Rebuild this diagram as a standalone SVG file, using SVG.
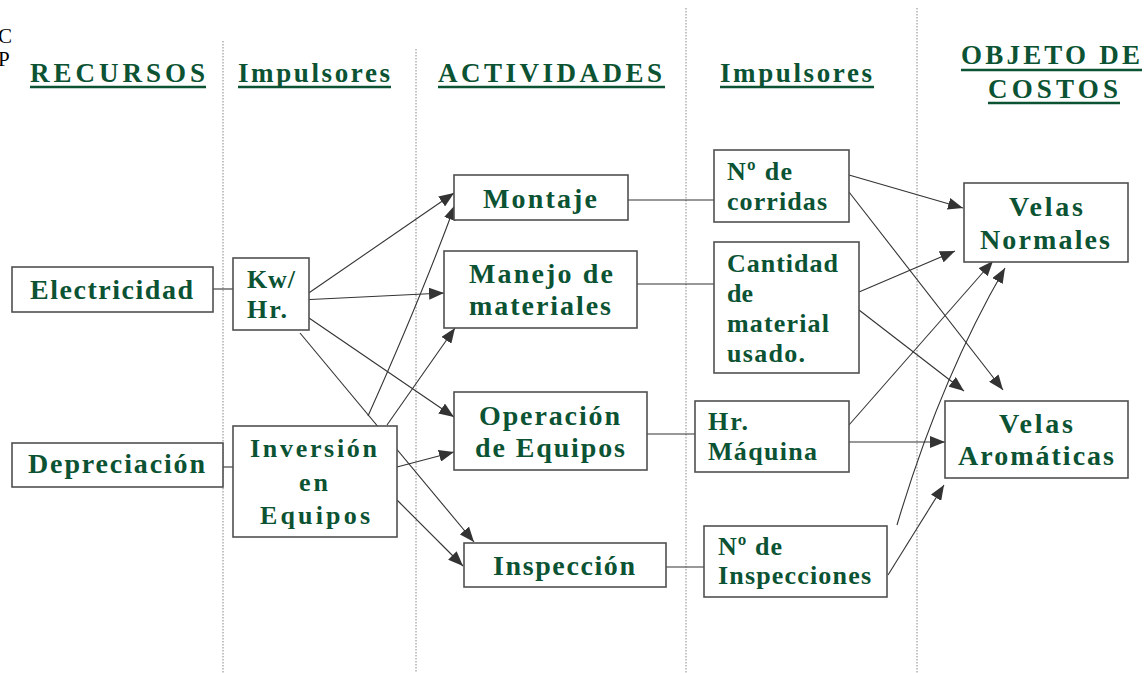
<svg xmlns="http://www.w3.org/2000/svg" width="1146" height="673" viewBox="0 0 1146 673">
<style>
.bx{fill:#fff;stroke:#505050;stroke-width:1.6}
.t{font-weight:bold;fill:#0b5333;font-size:28px}
.s{font-size:26px}
.h{font-weight:bold;fill:#0b5333;font-size:27px}
.ul{stroke:#0b5333;stroke-width:2.6}
.dv{stroke:#888;stroke-width:1;stroke-dasharray:1.5 1.5}
.c{stroke:#333;stroke-width:1.1;fill:none}
.a{stroke:#333;stroke-width:1.1;fill:none;marker-end:url(#ah)}
</style>
<defs>
<marker id="ah" markerUnits="userSpaceOnUse" markerWidth="16" markerHeight="12" refX="15" refY="6" orient="auto">
<path d="M0,0 L15,6 L0,12 Z" fill="#333"/>
</marker>
</defs>
<rect width="1146" height="673" fill="#fff"/>
<g id="dividers">
<line class="dv" x1="223" y1="41" x2="223" y2="673"/>
<line class="dv" x1="416" y1="49" x2="416" y2="673"/>
<line class="dv" x1="686" y1="8" x2="686" y2="673"/>
<line class="dv" x1="917" y1="8" x2="917" y2="673"/>
</g>
<g id="edge-text" font-family="Liberation Serif, serif">
<text x="-2" y="43" font-size="21" fill="#000">C</text>
<text x="-2" y="66" font-size="21" fill="#000">P</text>
</g>
<g id="headers" font-family="Liberation Serif, serif">
<text class="h" x="30" y="82" textLength="175" lengthAdjust="spacing">RECURSOS</text>
<line class="ul" x1="30" y1="87" x2="206" y2="87"/>
<text class="h" x="238" y="82" textLength="152" lengthAdjust="spacing">Impulsores</text>
<line class="ul" x1="238" y1="87" x2="391" y2="87"/>
<text class="h" x="438" y="82" textLength="224" lengthAdjust="spacing">ACTIVIDADES</text>
<line class="ul" x1="438" y1="87" x2="665" y2="87"/>
<text class="h" x="720" y="82" textLength="152" lengthAdjust="spacing">Impulsores</text>
<line class="ul" x1="720" y1="87" x2="874" y2="87"/>
<text class="h" x="961" y="64" textLength="179" lengthAdjust="spacing">OBJETO DE</text>
<line class="ul" x1="961" y1="70" x2="1142" y2="70"/>
<text class="h" x="988" y="98" textLength="130" lengthAdjust="spacing">COSTOS</text>
<line class="ul" x1="988" y1="103" x2="1120" y2="103"/>
</g>
<g id="connectors">
<line class="c" x1="213" y1="289" x2="233" y2="289"/>
<line class="c" x1="223" y1="467" x2="233" y2="467"/>
<line class="c" x1="628" y1="200" x2="714" y2="200"/>
<line class="c" x1="637" y1="284" x2="714" y2="284"/>
<line class="c" x1="647" y1="434" x2="695" y2="434"/>
<line class="c" x1="666" y1="567" x2="704" y2="567"/>
<line class="a" x1="300" y1="299" x2="454" y2="193"/>
<line class="a" x1="300" y1="300" x2="444" y2="293"/>
<line class="a" x1="309" y1="318" x2="454" y2="417"/>
<line class="a" x1="300" y1="333" x2="474" y2="542"/>
<path class="a" d="M368,416 Q420,300 455,205"/>
<line class="a" x1="387" y1="425" x2="455" y2="328"/>
<line class="a" x1="397" y1="467" x2="454" y2="452"/>
<line class="a" x1="397" y1="500" x2="463" y2="566"/>
<line class="a" x1="849" y1="175" x2="963" y2="208"/>
<line class="a" x1="849" y1="192" x2="1003" y2="390"/>
<line class="a" x1="859" y1="292" x2="955" y2="251"/>
<line class="a" x1="859" y1="310" x2="964" y2="391"/>
<line class="a" x1="849" y1="425" x2="993" y2="261"/>
<line class="a" x1="849" y1="442" x2="945" y2="442"/>
<path class="a" d="M897,525 Q940,380 1005,268"/>
<line class="a" x1="888" y1="575" x2="944" y2="485"/>
</g>
<g id="nodes" font-family="Liberation Serif, serif">
<g id="electricidad">
<rect class="bx" x="12" y="267" width="201" height="45"/>
<text class="t" x="30" y="299" textLength="163" lengthAdjust="spacing">Electricidad</text>
</g>
<g id="depreciacion">
<rect class="bx" x="12" y="443" width="211" height="44"/>
<text class="t" x="28" y="473" textLength="177" lengthAdjust="spacing">Depreciación</text>
</g>
<g id="kwhr">
<rect class="bx" x="233" y="258" width="76" height="72"/>
<text class="t s" x="247" y="288" textLength="48" lengthAdjust="spacing">Kw/</text>
<text class="t s" x="247" y="318" textLength="40" lengthAdjust="spacing">Hr.</text>
</g>
<g id="inversion">
<rect class="bx" x="233" y="426" width="164" height="111"/>
<text class="t s" x="250" y="457" textLength="127" lengthAdjust="spacing">Inversión</text>
<text class="t s" x="299" y="491" textLength="29" lengthAdjust="spacing">en</text>
<text class="t s" x="260" y="524" textLength="110" lengthAdjust="spacing">Equipos</text>
</g>
<g id="montaje">
<rect class="bx" x="454" y="175" width="174" height="45"/>
<text class="t" x="483" y="208" textLength="114" lengthAdjust="spacing">Montaje</text>
</g>
<g id="manejo">
<rect class="bx" x="444" y="251" width="193" height="77"/>
<text class="t" x="469" y="283" textLength="144" lengthAdjust="spacing">Manejo de</text>
<text class="t" x="469" y="315" textLength="142" lengthAdjust="spacing">materiales</text>
</g>
<g id="operacion">
<rect class="bx" x="454" y="392" width="193" height="78"/>
<text class="t" x="479" y="425" textLength="141" lengthAdjust="spacing">Operación</text>
<text class="t" x="475" y="457" textLength="150" lengthAdjust="spacing">de Equipos</text>
</g>
<g id="inspeccion">
<rect class="bx" x="464" y="543" width="202" height="44"/>
<text class="t" x="493" y="575" textLength="142" lengthAdjust="spacing">Inspección</text>
</g>
<g id="corridas">
<rect class="bx" x="714" y="150" width="135" height="72"/>
<text class="t s" x="727" y="180" textLength="65" lengthAdjust="spacing">Nº de</text>
<text class="t s" x="727" y="210" textLength="100" lengthAdjust="spacing">corridas</text>
</g>
<g id="cantidad">
<rect class="bx" x="714" y="242" width="145" height="131"/>
<text class="t s" x="727" y="272" textLength="111" lengthAdjust="spacing">Cantidad</text>
<text class="t s" x="727" y="302" textLength="26" lengthAdjust="spacing">de</text>
<text class="t s" x="727" y="332" textLength="102" lengthAdjust="spacing">material</text>
<text class="t s" x="727" y="362" textLength="78" lengthAdjust="spacing">usado.</text>
</g>
<g id="hrmaquina">
<rect class="bx" x="695" y="401" width="154" height="71"/>
<text class="t s" x="708" y="430" textLength="40" lengthAdjust="spacing">Hr.</text>
<text class="t s" x="708" y="460" textLength="109" lengthAdjust="spacing">Máquina</text>
</g>
<g id="ninspecciones">
<rect class="bx" x="704" y="526" width="183" height="71"/>
<text class="t s" x="718" y="555" textLength="64" lengthAdjust="spacing">Nº de</text>
<text class="t s" x="718" y="584" textLength="153" lengthAdjust="spacing">Inspecciones</text>
</g>
<g id="velas-normales">
<rect class="bx" x="964" y="183" width="164" height="79"/>
<text class="t" x="1009" y="216" textLength="74" lengthAdjust="spacing">Velas</text>
<text class="t" x="980" y="249" textLength="130" lengthAdjust="spacing">Normales</text>
</g>
<g id="velas-aromaticas">
<rect class="bx" x="945" y="401" width="183" height="77"/>
<text class="t" x="999" y="433" textLength="74" lengthAdjust="spacing">Velas</text>
<text class="t" x="958" y="465" textLength="156" lengthAdjust="spacing">Aromáticas</text>
</g>
</g>
</svg>
